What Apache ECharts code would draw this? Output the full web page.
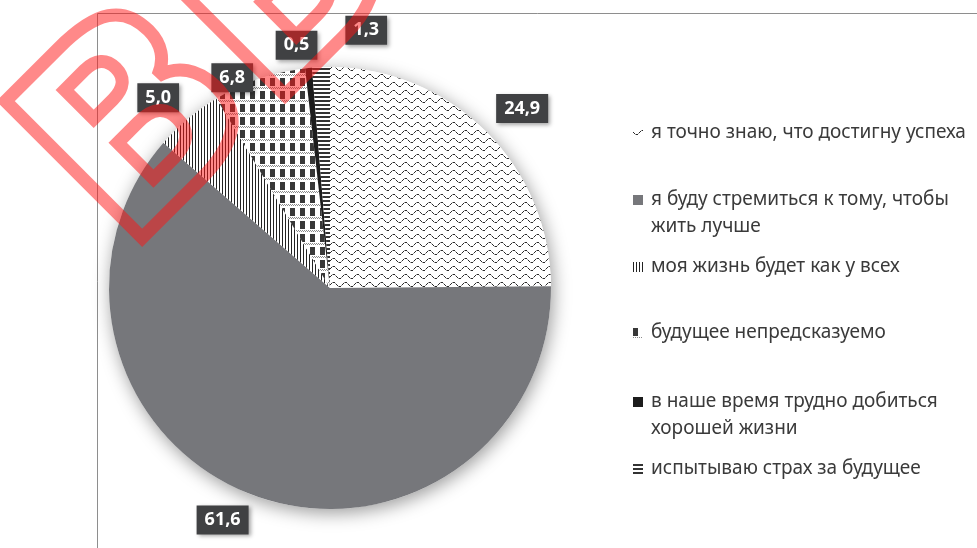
<!DOCTYPE html>
<html>
<head>
<meta charset="utf-8">
<script src="https://cdn.jsdelivr.net/npm/echarts@6/dist/echarts.min.js"></script>
<style>
  html, body { margin: 0; padding: 0; background: #fff; }
  #main { width: 977px; height: 548px; }
</style>
</head>
<body>
<div id="main"></div>
<script>
// данные
var categories = [
    'я точно знаю, что достигну успеха',
    'я буду стремиться к тому, чтобы жить лучше',
    'моя жизнь будет как у всех',
    'будущее непредсказуемо',
    'в наше время трудно добиться хорошей жизни',
    'испытываю страх за будущее'
];
var legendLabels = [
    'я точно знаю, что достигну успеха',
    'я буду стремиться к тому, чтобы\nжить лучше',
    'моя жизнь будет как у всех',
    'будущее непредсказуемо',
    'в наше время трудно добиться\nхорошей жизни',
    'испытываю страх за будущее'
];
var values = [24.9, 61.6, 5.0, 6.8, 0.5, 1.3];

// узоры заливки
function makePattern(w, h, draw) {
    var c = document.createElement('canvas');
    c.width = w;
    c.height = h;
    var ctx = c.getContext('2d');
    ctx.fillStyle = '#ffffff';
    ctx.fillRect(0, 0, w, h);
    draw(ctx);
    return { image: c, repeat: 'repeat' };
}
var wavePattern = makePattern(12, 8, function (ctx) {
    for (var x = 0; x < 12; x++) {
        var y = Math.round(4 + 2 * Math.sin(2 * Math.PI * x / 12));
        ctx.fillStyle = x % 3 == 2 ? '#9a9a9a' : '#2a2a2a';
        ctx.fillRect(x, y, 1, 1);
    }
});
var vLinePattern = makePattern(3, 1, function (ctx) {
    ctx.fillStyle = '#222222';
    ctx.fillRect(0, 0, 1, 1);
});
var checkPattern = makePattern(10, 13, function (ctx) {
    ctx.fillStyle = '#383838';
    ctx.fillRect(0, 0, 5, 8);
    ctx.fillStyle = '#8a8a8a';
    for (var x = 0; x < 10; x += 2) {
        ctx.fillRect(x, 9, 1, 1);
        ctx.fillRect(x + 1, 10, 1, 1);
    }
});
var hLinePattern = makePattern(1, 4, function (ctx) {
    ctx.fillStyle = '#333333';
    ctx.fillRect(0, 0, 1, 2);
});
var sliceColors = [wavePattern, '#76777b', vLinePattern, checkPattern, '#1c1c1c', hLinePattern];

// сдвиг подписей (как в исходной диаграмме Excel)
var labelShift = [[-10, -7], [8, 4], [10, -4], [6, 20], [16, -1], [72, -15]];
var legendTops = [119.5, 159.5, 253.5, 319.5, 361.5, 455.5];

var pieData = categories.map(function (name, i) {
    return { name: name, value: values[i], itemStyle: { color: sliceColors[i] } };
});

var legends = categories.map(function (name, i) {
    var text = legendLabels[i];
    // пустая первая строка — значок встаёт напротив первой строки текста
    if (text.indexOf('\n') >= 0) text = '\n' + text;
    return {
        data: [name],
        orient: 'vertical',
        left: 633,
        top: legendTops[i],
        padding: 0,
        icon: 'rect',
        itemWidth: 10,
        itemHeight: 10,
        selectedMode: false,
        formatter: function () { return text; },
        textStyle: {
            color: '#3a3a3a',
            fontSize: 19,
            lineHeight: 27,
            fontFamily: 'Noto Sans',
            padding: [0, 0, 0, 3]
        }
    };
});

var option = {
    backgroundColor: '#ffffff',
    animation: false,
    legend: legends,
    graphic: [
        {
            type: 'rect',
            shape: { x: 97.5, y: 13.5, width: 1000, height: 700 },
            style: { fill: 'none', stroke: '#8e8e8e', lineWidth: 1 },
            z: -10
        },
        {
            type: 'text',
            x: 170,
            y: 300,
            rotation: Math.PI / 4,
            z: 100,
            silent: true,
            style: {
                text: 'ВБ',
                font: 'bold 265px "DejaVu Sans"',
                fill: 'rgba(0,0,0,0)',
                stroke: 'rgba(255,20,20,0.5)',
                lineWidth: 13,
                lineJoin: 'round',
                align: 'left',
                verticalAlign: 'bottom'
            }
        }
    ],
    series: [
        {
            // тень под кругом
            type: 'pie',
            center: [330, 288],
            radius: 221,
            silent: true,
            label: { show: false },
            labelLine: { show: false },
            itemStyle: {
                color: '#ffffff',
                shadowBlur: 18,
                shadowColor: 'rgba(0,0,0,0.4)',
                shadowOffsetX: 2,
                shadowOffsetY: 4
            },
            data: [{ name: '', value: 1 }],
            z: 1
        },
        {
            type: 'pie',
            center: [330, 288],
            radius: 221,
            startAngle: 90,
            clockwise: true,
            avoidLabelOverlap: false,
            z: 2,
            itemStyle: { borderWidth: 0 },
            label: {
                show: true,
                position: 'outside',
                formatter: function (p) {
                    return p.value.toFixed(1).replace('.', ',');
                },
                color: '#ffffff',
                fontWeight: 'bold',
                fontSize: 18,
                fontFamily: 'Noto Sans',
                backgroundColor: '#404143',
                padding: [6, 8, 5, 8],
                shadowColor: 'rgba(0,0,0,0.35)',
                shadowBlur: 4,
                shadowOffsetX: 2,
                shadowOffsetY: 2
            },
            labelLine: { show: false, length: 22, length2: 0 },
            labelLayout: function (params) {
                var s = labelShift[params.dataIndex];
                return { dx: s[0], dy: s[1] };
            },
            data: pieData
        }
    ]
};

var chart = echarts.init(document.getElementById('main'));
chart.setOption(option);
</script>
</body>
</html>
